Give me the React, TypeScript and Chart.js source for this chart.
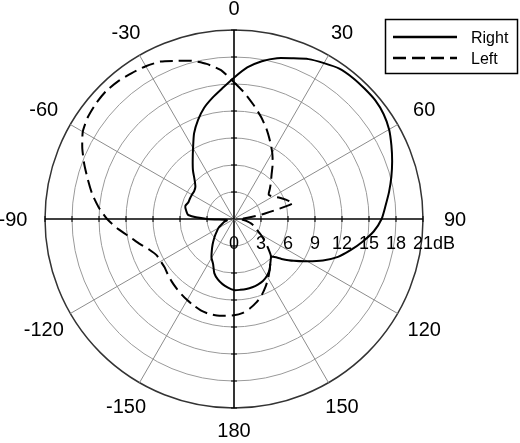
import { useEffect, useRef } from "react"
import { Chart, registerables } from "chart.js"
import type { Plugin } from "chart.js"

Chart.register(...registerables)

// azimuth of each sample, degrees (0 at top, clockwise)
const angles = [
    0, 5, 10, 15, 20, 25, 30, 35, 40, 45, 50, 55, 60, 65, 70, 75, 80, 85,
    90, 95, 100, 105, 110, 115, 120, 125, 130, 135, 140, 145, 150, 155, 160, 165, 170, 175,
    180, -175, -170, -165, -160, -155, -150, -145, -140, -135, -130, -125, -120, -115, -110, -105, -100, -95,
    -90, -85, -80, -75, -70, -65, -60, -55, -50, -45, -40, -35, -30, -25, -20, -15, -10, -5,
]

// gain in dB, same order as angles
const rightGain = [
    15.7, 16.9, 17.8, 18.5, 19.0, 19.6, 20.0, 20.4, 20.5, 20.5, 20.5, 20.3, 19.9, 19.3, 18.7, 18.1, 17.5, 16.9,
    16.4, 15.6, 14.5, 13.4, 12.3, 10.9, 9.4, 8.1, 6.9, 5.9, 6.3, 6.9, 7.3, 7.6, 7.75, 7.85, 7.9, 7.9,
    7.9, 7.65, 7.35, 6.95, 6.4, 5.5, 5.0, 4.3, 3.7, 3.15, 2.7, 2.3, 2.0, 1.6, 1.3, 1.1, 0.8, 0.9,
    3.0, 5.1, 5.4, 5.6, 5.4, 5.4, 5.4, 5.4, 5.6, 6.2, 7.1, 8.0, 9.1, 10.5, 11.7, 12.8, 13.7, 14.6,
]

const leftGain = [
    15.2, 14.0, 12.8, 11.7, 10.6, 9.5, 8.5, 7.5, 6.5, 5.8, 5.2, 4.7, 5.0, 5.6, 6.2, 6.8, 3.5, 1.5,
    0.6, 1.0, 1.5, 2.0, 2.4, 2.8, 3.4, 4.1, 4.9, 5.8, 6.3, 6.9, 7.6, 8.3, 9.0, 9.6, 10.1, 10.5,
    10.7, 10.8, 10.9, 10.9, 10.8, 10.6, 10.4, 10.2, 10.0, 9.8, 9.6, 9.4, 9.4, 9.5, 10.0, 10.8, 11.7, 12.9,
    14.1, 15.1, 16.0, 16.8, 17.7, 18.6, 19.4, 19.8, 20.0, 20.1, 20.0, 19.8, 19.6, 19.3, 18.7, 18.2, 17.5, 16.6,
]

const ringTicks = [0, 3, 6, 9, 12, 15, 18, 21]
const angleTicks = [0, 30, 60, 90, 120, 150, 180, -150, -120, -90, -60, -30]
const seriesNames = ["Right", "Left"]

const FONT = '"Liberation Sans", Arial, sans-serif'

// ring values along the 90 axis, angle labels, axis ticks and the boxed legend
const polarText: Plugin<"radar"> = {
    id: "polarText",
    afterDraw(chart) {
        const { ctx } = chart
        const r: any = chart.scales.r
        const cx = r.xCenter
        const cy = r.yCenter
        const outer = r.getDistanceFromCenterForValue(ringTicks[ringTicks.length - 1])
        ctx.save()

        ctx.strokeStyle = "#000"
        ctx.lineWidth = 1
        ringTicks.slice(1).forEach(v => {
            const d = r.getDistanceFromCenterForValue(v)
            ctx.beginPath()
            ctx.moveTo(cx - 3, cy - d); ctx.lineTo(cx + 3, cy - d)
            ctx.moveTo(cx - 3, cy + d); ctx.lineTo(cx + 3, cy + d)
            ctx.moveTo(cx - d, cy - 3); ctx.lineTo(cx - d, cy + 3)
            ctx.moveTo(cx + d, cy - 3); ctx.lineTo(cx + d, cy + 3)
            ctx.stroke()
        })

        ctx.fillStyle = "#000"
        ctx.textBaseline = "alphabetic"
        ctx.font = `18px ${FONT}`
        ctx.textAlign = "left"
        ringTicks.forEach((v, i) => {
            const x = cx + r.getDistanceFromCenterForValue(v)
            const num = String(v)
            const text = i === ringTicks.length - 1 ? num + "dB" : num
            ctx.fillText(text, x - ctx.measureText(num).width / 2, cy + 30)
        })

        ctx.font = `20px ${FONT}`
        ctx.textAlign = "center"
        angleTicks.forEach(a => {
            const idx = angles.indexOf(a)
            const s = Math.abs(Math.sin((a * Math.PI) / 180))
            const p = r.getPointPosition(idx, outer + 22 + 10 * s)
            ctx.fillText(String(a), p.x, p.y + 7)
        })

        const lx = 385, ly = 19
        ctx.lineWidth = 1.5
        ctx.strokeRect(lx + 0.5, ly + 0.5, 132, 54)
        ctx.font = `16px ${FONT}`
        ctx.textAlign = "left"
        chart.data.datasets.forEach((ds: any, i) => {
            const y = ly + 18 + i * 21
            ctx.lineWidth = 2.5
            ctx.setLineDash(ds.borderDash || [])
            ctx.beginPath()
            ctx.moveTo(lx + 8, y)
            ctx.lineTo(lx + 72, y)
            ctx.stroke()
            ctx.setLineDash([])
            ctx.fillText(String(ds.label), lx + 86, y + 6)
        })
        ctx.restore()
    },
}

const PolarPattern = () => {
    const canvasRef = useRef<HTMLCanvasElement | null>(null)

    useEffect(() => {
        if (!canvasRef.current) return
        const chart = new Chart(canvasRef.current, {
            type: "radar",
            data: {
                labels: angles.map(String),
                datasets: [
                    {
                        label: seriesNames[0],
                        data: rightGain,
                        borderColor: "#000",
                        borderWidth: 2,
                        fill: false,
                        pointRadius: 0,
                        pointHoverRadius: 0,
                        tension: 0.2,
                    },
                    {
                        label: seriesNames[1],
                        data: leftGain,
                        borderColor: "#000",
                        borderWidth: 2,
                        borderDash: [13, 6],
                        fill: false,
                        pointRadius: 0,
                        pointHoverRadius: 0,
                        tension: 0.2,
                    },
                ],
            },
            options: {
                animation: false,
                responsive: true,
                maintainAspectRatio: false,
                layout: { padding: { left: 45, top: 30, right: 97, bottom: 35 } },
                plugins: {
                    legend: { display: false },
                    tooltip: { enabled: false },
                },
                scales: {
                    r: {
                        min: 0,
                        max: 21,
                        ticks: { display: false, stepSize: 3 },
                        pointLabels: { display: false },
                        grid: {
                            circular: true,
                            color: c => (c.index === ringTicks.length - 1 ? "#333" : "#9a9a9a"),
                            lineWidth: c => (c.index === ringTicks.length - 1 ? 1.5 : 1),
                        },
                        angleLines: {
                            color: c => (angles[c.index] % 90 === 0 ? "#000" : "#8c8c8c"),
                            lineWidth: c => {
                                const a = angles[c.index]
                                if (a % 90 === 0) return 1.6
                                if (a % 30 === 0) return 1
                                return 0
                            },
                        },
                    },
                },
            },
            plugins: [polarText],
        })
        return () => {
            chart.destroy()
        }
    }, [])

    return (
        <div style={{ position: "absolute", left: 0, top: 0, width: 520, height: 443, background: "#fff" }}>
            <canvas ref={canvasRef}></canvas>
        </div>
    )
}

export default function App() {
    return <PolarPattern />
}
